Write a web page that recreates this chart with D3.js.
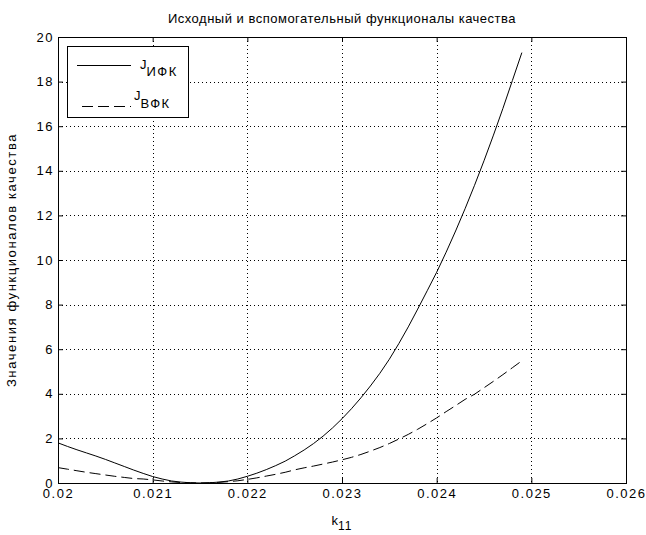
<!DOCTYPE html>
<html>
<head>
<meta charset="utf-8">
<style>
    body { margin: 0; background: #fff; }
    text { font-family: "Liberation Sans", Arial, sans-serif; fill: #000; }
</style>
</head>
<body>
<svg width="646" height="535"></svg>
<script src="https://cdn.jsdelivr.net/npm/d3@7"></script>
<script>
    // k11 values, step 0.0001 from 0.0200 to 0.0249
    const k11 = d3.range(50).map(function(i) { return +(0.02 + i * 0.0001).toFixed(4); });

    const jIFK = [1.80, 1.64, 1.49, 1.35, 1.21, 1.06, 0.90, 0.74, 0.58, 0.43,
                  0.29, 0.18, 0.09, 0.04, 0.01, 0.00, 0.01, 0.04, 0.09, 0.18,
                  0.30, 0.44, 0.60, 0.78, 0.98, 1.22, 1.48, 1.77, 2.10, 2.47,
                  2.88, 3.33, 3.82, 4.35, 4.92, 5.55, 6.25, 7.00, 7.80, 8.62,
                  9.45, 10.35, 11.30, 12.30, 13.35, 14.45, 15.60, 16.80, 18.05, 19.30];

    const jVFK = [0.69, 0.62, 0.55, 0.48, 0.42, 0.36, 0.30, 0.25, 0.20, 0.18,
                  0.14, 0.09, 0.05, 0.02, 0.01, 0.00, 0.01, 0.03, 0.06, 0.10,
                  0.16, 0.23, 0.31, 0.39, 0.48, 0.59, 0.68, 0.76, 0.85, 0.94,
                  1.04, 1.15, 1.28, 1.43, 1.59, 1.77, 1.97, 2.18, 2.41, 2.66,
                  2.92, 3.20, 3.47, 3.75, 3.98, 4.27, 4.56, 4.86, 5.17, 5.48];

    const xTicks = [0.02, 0.021, 0.022, 0.023, 0.024, 0.025, 0.026];
    const yTicks = [0, 2, 4, 6, 8, 10, 12, 14, 16, 18, 20];

    const svg = d3.select("svg"),
        pLeft = 58, pRight = 626, pTop = 37, pBottom = 483;

    const x = d3.scaleLinear().domain([0.02, 0.026]).range([pLeft, pRight]);
    const y = d3.scaleLinear().domain([0, 20]).range([pBottom, pTop]);

    // dotted grid
    const grid = svg.append("g").attr("stroke", "#000").attr("stroke-width", 1)
        .attr("stroke-dasharray", "1,3");
    grid.selectAll(".gx").data(xTicks.slice(1, -1)).enter().append("line")
        .attr("x1", function(d) { return Math.round(x(d)) + 0.5; })
        .attr("x2", function(d) { return Math.round(x(d)) + 0.5; })
        .attr("y1", pTop).attr("y2", pBottom);
    grid.selectAll(".gy").data(yTicks.slice(1, -1)).enter().append("line")
        .attr("y1", function(d) { return Math.round(y(d)) + 0.5; })
        .attr("y2", function(d) { return Math.round(y(d)) + 0.5; })
        .attr("x1", pLeft).attr("x2", pRight);

    function styleAxis(g, hideText) {
        g.select(".domain").remove();
        g.selectAll("line").attr("stroke", "#000");
        g.selectAll("text").attr("font-size", 13).attr("letter-spacing", "1.5px")
            .attr("font-family", "'Liberation Sans', Arial, sans-serif");
        if (hideText) g.selectAll("text").remove();
    }

    const fmt = function(d) { return String(d); };

    svg.append("g").attr("transform", "translate(0," + pBottom + ")")
        .call(d3.axisBottom(x).tickValues(xTicks).tickFormat(fmt).tickSize(-5).tickPadding(6))
        .call(styleAxis, false);
    svg.append("g").attr("transform", "translate(0," + pTop + ")")
        .call(d3.axisTop(x).tickValues(xTicks).tickSize(-5))
        .call(styleAxis, true);
    svg.append("g").attr("transform", "translate(" + pLeft + ",0)")
        .call(d3.axisLeft(y).tickValues(yTicks).tickFormat(fmt).tickSize(-5).tickPadding(4))
        .call(styleAxis, false);
    svg.append("g").attr("transform", "translate(" + pRight + ",0)")
        .call(d3.axisRight(y).tickValues(yTicks).tickSize(-5))
        .call(styleAxis, true);

    // box
    svg.append("rect")
        .attr("x", pLeft + 0.5).attr("y", pTop + 0.5)
        .attr("width", pRight - pLeft).attr("height", pBottom - pTop)
        .attr("fill", "none").attr("stroke", "#000");

    const line = d3.line()
        .x(function(d, i) { return x(k11[i]); })
        .y(function(d) { return y(d); });

    svg.append("path").datum(jIFK)
        .attr("d", line).attr("fill", "none").attr("stroke", "#000").attr("stroke-width", 1);
    svg.append("path").datum(jVFK)
        .attr("d", line).attr("fill", "none").attr("stroke", "#000").attr("stroke-width", 1)
        .attr("stroke-dasharray", "11,5");

    // title and labels
    svg.append("text").attr("x", (pLeft + pRight) / 2).attr("y", 23)
        .attr("text-anchor", "middle").attr("font-size", 13).attr("letter-spacing", "0.5px")
        .text("Исходный и вспомогательный функционалы качества");

    svg.append("text")
        .attr("transform", "translate(16," + (pTop + pBottom) / 2 + ") rotate(-90)")
        .attr("text-anchor", "middle").attr("font-size", 13).attr("letter-spacing", "1.6px")
        .text("Значения функционалов качества");

    const xl = svg.append("text").attr("x", (pLeft + pRight) / 2).attr("y", 525)
        .attr("text-anchor", "middle").attr("font-size", 13);
    xl.append("tspan").text("k");
    xl.append("tspan").attr("dy", 5).attr("font-size", 12).attr("letter-spacing", "1px").text("11");

    // legend
    const legend = svg.append("g");
    legend.append("rect").attr("x", 67.5).attr("y", 46.5).attr("width", 121).attr("height", 71)
        .attr("fill", "#fff").attr("stroke", "#000");
    legend.append("line").attr("x1", 77).attr("x2", 131).attr("y1", 65.5).attr("y2", 65.5)
        .attr("stroke", "#000");
    legend.append("line").attr("x1", 82).attr("x2", 131).attr("y1", 106.5).attr("y2", 106.5)
        .attr("stroke", "#000").attr("stroke-dasharray", "11,5");
    const l1 = legend.append("text").attr("x", 140).attr("y", 69).attr("font-size", 13);
    l1.append("tspan").text("J");
    l1.append("tspan").attr("dy", 7).attr("letter-spacing", "1.5px").text("ИФК");
    const l2 = legend.append("text").attr("x", 134).attr("y", 99.5).attr("font-size", 13);
    l2.append("tspan").text("J");
    l2.append("tspan").attr("dy", 8).attr("letter-spacing", "1.5px").text("ВФК");
</script>
</body>
</html>
